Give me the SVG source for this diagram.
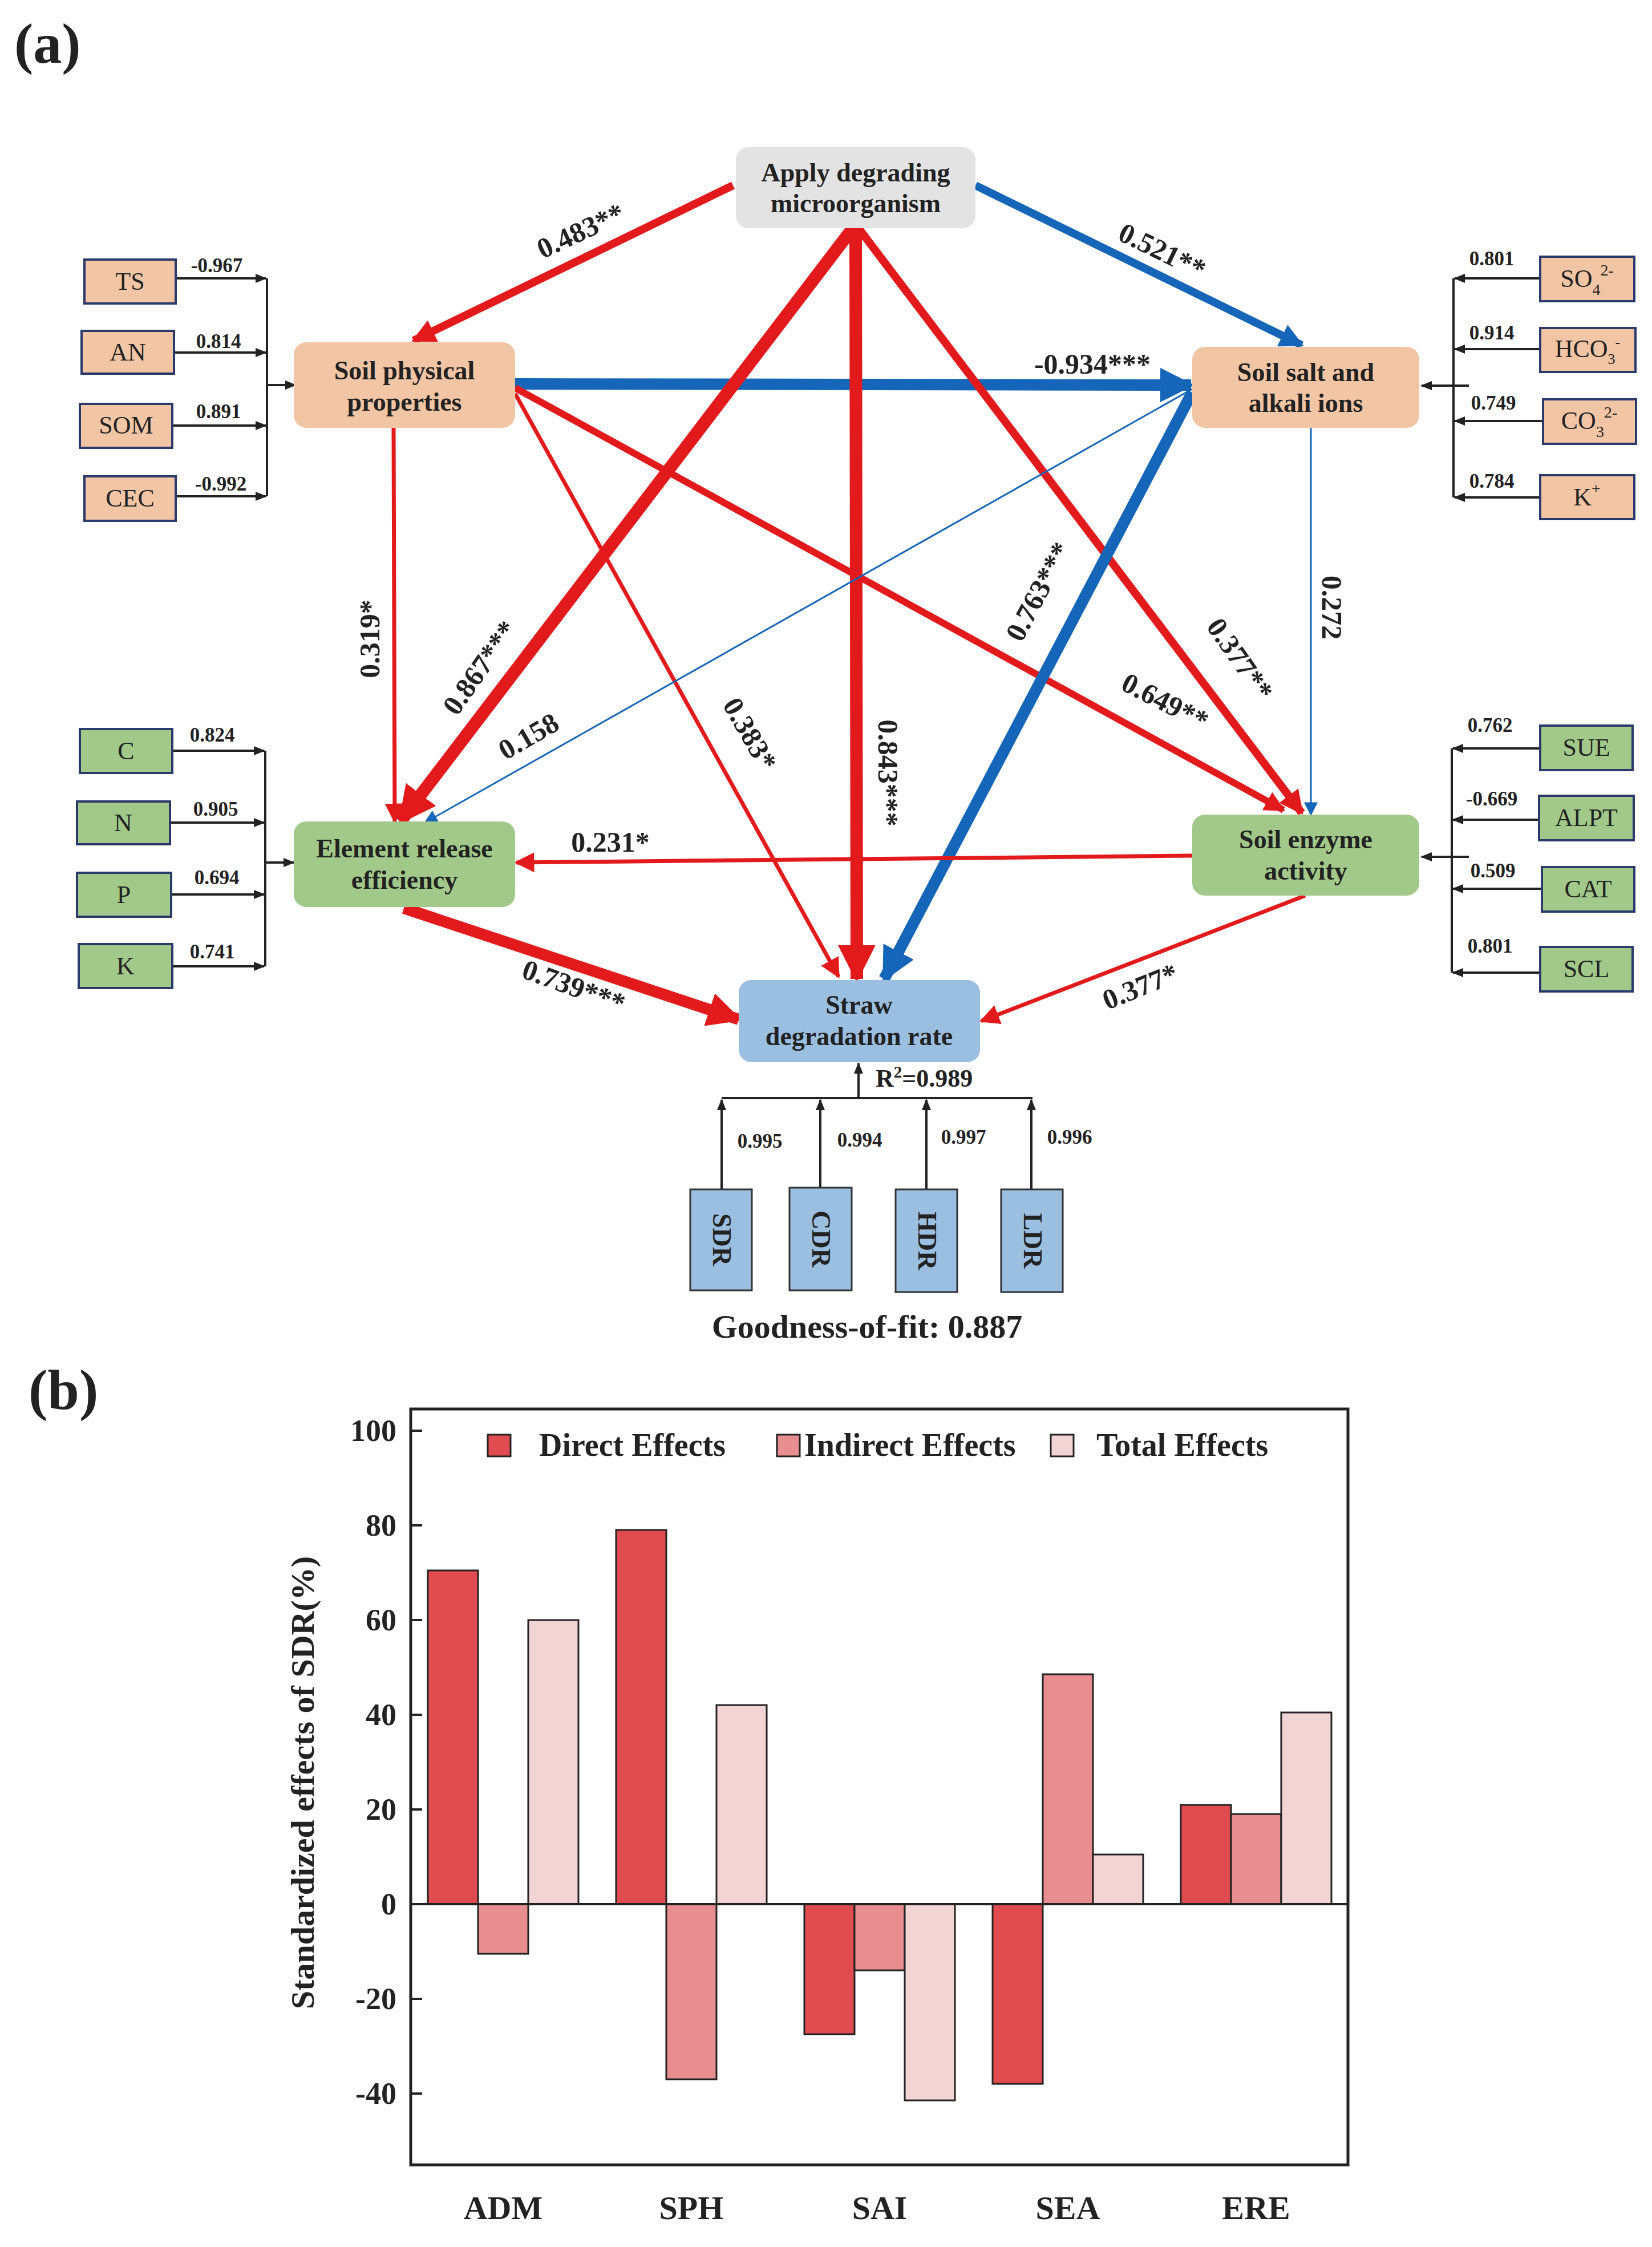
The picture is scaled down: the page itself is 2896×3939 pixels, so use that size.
<svg xmlns="http://www.w3.org/2000/svg" width="2896" height="3939" viewBox="0 0 2896 3939" font-family="'Liberation Serif','DejaVu Serif',serif">
<style>
text{font-family:'Liberation Serif','DejaVu Serif',serif;fill:#222}
.nb{font-weight:bold;font-size:46px;text-anchor:middle}
.lb{font-weight:bold;font-size:50px;text-anchor:middle}
.sm{font-weight:bold;font-size:35px;text-anchor:middle}
.bx{font-size:44px;text-anchor:middle}
.or{fill:#f2c5a5}.gr{fill:#a2c98a}.bl{fill:#9bbfe0}
.k{stroke:#222;stroke-width:4;fill:none}
.red{stroke:#e31a1c;fill:none}.blu{stroke:#1565b8;fill:none}
.bar{stroke:#222;stroke-width:3}
.d{fill:#e04b4f}.i{fill:#e88e90}.t{fill:#f3d4d4}
.ax{font-weight:bold;font-size:54px;text-anchor:end}
</style>
<defs>
<marker id="rA" viewBox="0 0 10 10" refX="9" refY="5" markerWidth="3" markerHeight="3" orient="auto"><path d="M0,0L10,5L0,10z" fill="#e31a1c"/></marker>
<marker id="bA" viewBox="0 0 10 10" refX="9" refY="5" markerWidth="3" markerHeight="3" orient="auto"><path d="M0,0L10,5L0,10z" fill="#1565b8"/></marker>
<marker id="rT" viewBox="0 0 10 10" refX="9" refY="5" markerWidth="5" markerHeight="5" orient="auto"><path d="M0,0L10,5L0,10z" fill="#e31a1c"/></marker>
<marker id="bT" viewBox="0 0 10 10" refX="9" refY="5" markerWidth="8" markerHeight="8" orient="auto"><path d="M0,0L10,5L0,10z" fill="#1565b8"/></marker>
<marker id="kA" viewBox="0 0 10 10" refX="9" refY="5" markerWidth="5" markerHeight="5" orient="auto"><path d="M0,1L10,5L0,9z" fill="#222"/></marker>
</defs>
<rect width="2896" height="3939" fill="#fff"/>
<text x="25" y="110" font-size="100" font-weight="bold">(a)</text>

<g id="connectors">
<line class="red" x1="1285" y1="325" x2="725" y2="597" stroke-width="14" marker-end="url(#rA)"/>
<line class="blu" x1="1710" y1="325" x2="2282" y2="605" stroke-width="14" marker-end="url(#bA)"/>
<line class="blu" x1="903" y1="673" x2="2088" y2="675" stroke-width="20" marker-end="url(#bA)"/>
<line class="red" x1="1495" y1="400" x2="702" y2="1440" stroke-width="22" marker-end="url(#rA)"/>
<line class="red" x1="1500" y1="400" x2="1502" y2="1716" stroke-width="22" marker-end="url(#rA)"/>
<line class="red" x1="1505" y1="400" x2="2282" y2="1425" stroke-width="14" marker-end="url(#rA)"/>
<line class="red" x1="690" y1="750" x2="692" y2="1440" stroke-width="7" marker-end="url(#rT)"/>
<line class="red" x1="903" y1="690" x2="1470" y2="1712" stroke-width="7" marker-end="url(#rT)"/>
<line class="red" x1="903" y1="680" x2="2250" y2="1420" stroke-width="12" marker-end="url(#rA)"/>
<line class="blu" x1="2090" y1="682" x2="745" y2="1442" stroke-width="3" marker-end="url(#bT)"/>
<line class="blu" x1="2090" y1="688" x2="1550" y2="1716" stroke-width="20" marker-end="url(#bA)"/>
<line class="blu" x1="2298" y1="750" x2="2298" y2="1428" stroke-width="3" marker-end="url(#bT)"/>
<line class="red" x1="2090" y1="1500" x2="905" y2="1512" stroke-width="7" marker-end="url(#rT)"/>
<line class="red" x1="708" y1="1592" x2="1295" y2="1787" stroke-width="20" marker-end="url(#rA)"/>
<line class="red" x1="2288" y1="1570" x2="1720" y2="1790" stroke-width="7" marker-end="url(#rT)"/>

<g class="lb">
<text transform="translate(1025,420) rotate(-25)">0.483**</text>
<text transform="translate(2030,455) rotate(26)">0.521**</text>
<text x="1915" y="655">-0.934***</text>
<text transform="translate(855,1180) rotate(-55)">0.867***</text>
<text transform="translate(1540,1355) rotate(90)">0.843***</text>
<text transform="translate(2160,1165) rotate(55)">0.377**</text>
<text transform="translate(665,1120) rotate(-90)">0.319*</text>
<text transform="translate(1300,1295) rotate(60)">0.383*</text>
<text transform="translate(2035,1245) rotate(27)">0.649**</text>
<text transform="translate(935,1305) rotate(-30)">0.158</text>
<text transform="translate(1835,1045) rotate(-62)">0.763***</text>
<text transform="translate(2318,1065) rotate(90)">0.272</text>
<text x="1070" y="1493">0.231*</text>
<text transform="translate(1000,1745) rotate(20)">0.739***</text>
<text transform="translate(2005,1745) rotate(-22)">0.377*</text>
</g>

<g>
<polyline class="k" points="468,488 468,870"/>
<line class="k" x1="308" y1="488" x2="466" y2="488" marker-end="url(#kA)"/>
<line class="k" x1="305" y1="618" x2="466" y2="618" marker-end="url(#kA)"/>
<line class="k" x1="302" y1="746" x2="466" y2="746" marker-end="url(#kA)"/>
<line class="k" x1="308" y1="870" x2="466" y2="870" marker-end="url(#kA)"/>
<line class="k" x1="468" y1="675" x2="518" y2="675" marker-end="url(#kA)"/>
<polyline class="k" points="465,1316 465,1694"/>
<line class="k" x1="302" y1="1316" x2="463" y2="1316" marker-end="url(#kA)"/>
<line class="k" x1="298" y1="1442" x2="463" y2="1442" marker-end="url(#kA)"/>
<line class="k" x1="300" y1="1568" x2="463" y2="1568" marker-end="url(#kA)"/>
<line class="k" x1="302" y1="1694" x2="463" y2="1694" marker-end="url(#kA)"/>
<line class="k" x1="465" y1="1512" x2="515" y2="1512" marker-end="url(#kA)"/>
<polyline class="k" points="2548,488 2548,872"/>
<line class="k" x1="2700" y1="488" x2="2550" y2="488" marker-end="url(#kA)"/>
<line class="k" x1="2700" y1="612" x2="2550" y2="612" marker-end="url(#kA)"/>
<line class="k" x1="2703" y1="738" x2="2550" y2="738" marker-end="url(#kA)"/>
<line class="k" x1="2700" y1="872" x2="2550" y2="872" marker-end="url(#kA)"/>
<line class="k" x1="2575" y1="676" x2="2492" y2="676" marker-end="url(#kA)"/>
<polyline class="k" points="2545,1312 2545,1705"/>
<line class="k" x1="2700" y1="1312" x2="2547" y2="1312" marker-end="url(#kA)"/>
<line class="k" x1="2700" y1="1437" x2="2547" y2="1437" marker-end="url(#kA)"/>
<line class="k" x1="2703" y1="1558" x2="2547" y2="1558" marker-end="url(#kA)"/>
<line class="k" x1="2700" y1="1705" x2="2547" y2="1705" marker-end="url(#kA)"/>
<line class="k" x1="2575" y1="1502" x2="2492" y2="1502" marker-end="url(#kA)"/>
<line class="k" x1="1265" y1="1925" x2="1810" y2="1925"/>
<line class="k" x1="1505" y1="1925" x2="1505" y2="1864" marker-end="url(#kA)"/>
<line class="k" x1="1265" y1="2085" x2="1265" y2="1928" marker-end="url(#kA)"/>
<line class="k" x1="1438" y1="2082" x2="1438" y2="1928" marker-end="url(#kA)"/>
<line class="k" x1="1624" y1="2085" x2="1624" y2="1928" marker-end="url(#kA)"/>
<line class="k" x1="1808" y1="2085" x2="1808" y2="1928" marker-end="url(#kA)"/>
</g>
<g class="sm">
<text x="380" y="477">-0.967</text><text x="383" y="610">0.814</text><text x="383" y="733">0.891</text><text x="387" y="860">-0.992</text>
<text x="372" y="1300">0.824</text><text x="378" y="1430">0.905</text><text x="380" y="1550">0.694</text><text x="372" y="1680">0.741</text>
<text x="2615" y="465">0.801</text><text x="2615" y="595">0.914</text><text x="2618" y="718">0.749</text><text x="2615" y="855">0.784</text>
<text x="2612" y="1283">0.762</text><text x="2615" y="1412">-0.669</text><text x="2617" y="1538">0.509</text><text x="2612" y="1670">0.801</text>
<text x="1332" y="2012">0.995</text><text x="1507" y="2010">0.994</text><text x="1689" y="2005">0.997</text><text x="1875" y="2005">0.996</text>
</g>
<text x="1535" y="1905" font-size="44" font-weight="bold">R<tspan dy="-16" font-size="29">2</tspan><tspan dy="16">=0.989</tspan></text>
</g>

<g id="n_apply"><rect x="1290" y="258" width="420" height="142" rx="22" fill="#e3e3e3"/><text class="nb" x="1500" y="318">Apply degrading</text><text class="nb" x="1500" y="372">microorganism</text></g>
<g id="n_phys"><rect x="515" y="600" width="388" height="150" rx="22" class="or"/><text class="nb" x="709" y="665">Soil physical</text><text class="nb" x="709" y="720">properties</text></g>
<g id="n_salt"><rect x="2090" y="608" width="398" height="142" rx="22" class="or"/><text class="nb" x="2289" y="668">Soil salt and</text><text class="nb" x="2289" y="722">alkali ions</text></g>
<g id="n_elem"><rect x="515" y="1440" width="388" height="150" rx="22" class="gr"/><text class="nb" x="709" y="1503">Element release</text><text class="nb" x="709" y="1558">efficiency</text></g>
<g id="n_enz"><rect x="2090" y="1428" width="398" height="142" rx="22" class="gr"/><text class="nb" x="2289" y="1487">Soil enzyme</text><text class="nb" x="2289" y="1542">activity</text></g>
<g id="n_straw"><rect x="1295" y="1718" width="423" height="144" rx="22" class="bl"/><text class="nb" x="1506" y="1777">Straw</text><text class="nb" x="1506" y="1832">degradation rate</text></g>

<g id="n_TS"><rect x="148" y="455" width="160" height="77" class="or" stroke="#2a3a6a" stroke-width="4"/><text class="bx" x="228" y="508">TS</text></g>
<g id="n_AN"><rect x="143" y="580" width="162" height="75" class="or" stroke="#2a3a6a" stroke-width="4"/><text class="bx" x="224" y="632">AN</text></g>
<g id="n_SOM"><rect x="140" y="708" width="162" height="77" class="or" stroke="#2a3a6a" stroke-width="4"/><text class="bx" x="221" y="760">SOM</text></g>
<g id="n_CEC"><rect x="148" y="835" width="160" height="78" class="or" stroke="#2a3a6a" stroke-width="4"/><text class="bx" x="228" y="888">CEC</text></g>
<g id="n_C"><rect x="140" y="1278" width="162" height="77" class="gr" stroke="#2a3a6a" stroke-width="4"/><text class="bx" x="221" y="1331">C</text></g>
<g id="n_N"><rect x="135" y="1405" width="163" height="75" class="gr" stroke="#2a3a6a" stroke-width="4"/><text class="bx" x="216" y="1457">N</text></g>
<g id="n_P"><rect x="135" y="1530" width="165" height="77" class="gr" stroke="#2a3a6a" stroke-width="4"/><text class="bx" x="217" y="1583">P</text></g>
<g id="n_K"><rect x="138" y="1655" width="164" height="77" class="gr" stroke="#2a3a6a" stroke-width="4"/><text class="bx" x="220" y="1708">K</text></g>
<g id="n_SO4"><rect x="2700" y="450" width="165" height="78" class="or" stroke="#2a3a6a" stroke-width="4"/><text class="bx" x="2782" y="503">SO<tspan font-size="28" dy="14">4</tspan><tspan font-size="28" dy="-34">2-</tspan></text></g>
<g id="n_HCO3"><rect x="2700" y="575" width="167" height="77" class="or" stroke="#2a3a6a" stroke-width="4"/><text class="bx" x="2783" y="626" font-size="38">HCO<tspan font-size="26" dy="12">3</tspan><tspan font-size="26" dy="-30">-</tspan></text></g>
<g id="n_CO3"><rect x="2705" y="700" width="163" height="78" class="or" stroke="#2a3a6a" stroke-width="4"/><text class="bx" x="2786" y="752">CO<tspan font-size="28" dy="14">3</tspan><tspan font-size="28" dy="-34">2-</tspan></text></g>
<g id="n_Kp"><rect x="2700" y="833" width="165" height="77" class="or" stroke="#2a3a6a" stroke-width="4"/><text class="bx" x="2782" y="886">K<tspan font-size="28" dy="-20">+</tspan></text></g>
<g id="n_SUE"><rect x="2700" y="1272" width="162" height="78" class="gr" stroke="#2a3a6a" stroke-width="4"/><text class="bx" x="2781" y="1325">SUE</text></g>
<g id="n_ALPT"><rect x="2698" y="1395" width="166" height="78" class="gr" stroke="#2a3a6a" stroke-width="4"/><text class="bx" x="2781" y="1448">ALPT</text></g>
<g id="n_CAT"><rect x="2703" y="1520" width="162" height="78" class="gr" stroke="#2a3a6a" stroke-width="4"/><text class="bx" x="2784" y="1573">CAT</text></g>
<g id="n_SCL"><rect x="2700" y="1660" width="162" height="78" class="gr" stroke="#2a3a6a" stroke-width="4"/><text class="bx" x="2781" y="1713">SCL</text></g>
<g id="n_SDR"><rect x="1210" y="2085" width="108" height="177" class="bl" stroke="#333" stroke-width="3"/><text class="nb" transform="translate(1250,2173) rotate(90)">SDR</text></g>
<g id="n_CDR"><rect x="1384" y="2082" width="109" height="180" class="bl" stroke="#333" stroke-width="3"/><text class="nb" transform="translate(1424,2172) rotate(90)">CDR</text></g>
<g id="n_HDR"><rect x="1570" y="2085" width="108" height="180" class="bl" stroke="#333" stroke-width="3"/><text class="nb" transform="translate(1610,2175) rotate(90)">HDR</text></g>
<g id="n_LDR"><rect x="1755" y="2085" width="108" height="180" class="bl" stroke="#333" stroke-width="3"/><text class="nb" transform="translate(1795,2175) rotate(90)">LDR</text></g>
<text x="1520" y="2345" font-size="58" font-weight="bold" text-anchor="middle">Goodness-of-fit: 0.887</text>

<g id="chart">
<text x="50" y="2470" font-size="100" font-weight="bold">(b)</text>
<g class="bar">
<rect class="d" x="750" y="2753" width="88" height="585"/>
<rect class="i" x="838" y="3338" width="88" height="87"/>
<rect class="t" x="926" y="2840" width="88" height="498"/>
<rect class="d" x="1080" y="2682" width="88" height="656"/>
<rect class="i" x="1168" y="3338" width="88" height="307"/>
<rect class="t" x="1256" y="2989" width="88" height="349"/>
<rect class="d" x="1410" y="3338" width="88" height="228"/>
<rect class="i" x="1498" y="3338" width="88" height="116"/>
<rect class="t" x="1586" y="3338" width="88" height="344"/>
<rect class="d" x="1740" y="3338" width="88" height="315"/>
<rect class="i" x="1828" y="2935" width="88" height="403"/>
<rect class="t" x="1916" y="3251" width="88" height="87"/>
<rect class="d" x="2070" y="3164" width="88" height="174"/>
<rect class="i" x="2158" y="3180" width="88" height="158"/>
<rect class="t" x="2246" y="3002" width="88" height="336"/>
</g>
<rect x="720" y="2470" width="1643" height="1325" fill="none" stroke="#222" stroke-width="5"/>
<line x1="720" y1="3338" x2="2363" y2="3338" stroke="#222" stroke-width="4"/>
<g stroke="#222" stroke-width="4">
<line x1="720" y1="2508" x2="740" y2="2508"/><line x1="720" y1="2674" x2="740" y2="2674"/><line x1="720" y1="2840" x2="740" y2="2840"/><line x1="720" y1="3006" x2="740" y2="3006"/><line x1="720" y1="3172" x2="740" y2="3172"/><line x1="720" y1="3338" x2="740" y2="3338"/><line x1="720" y1="3504" x2="740" y2="3504"/><line x1="720" y1="3670" x2="740" y2="3670"/>
</g>
<g class="ax">
<text x="695" y="2526">100</text><text x="695" y="2692">80</text><text x="695" y="2858">60</text><text x="695" y="3024">40</text><text x="695" y="3190">20</text><text x="695" y="3356">0</text><text x="695" y="3522">-20</text><text x="695" y="3688">-40</text>
</g>
<text transform="translate(550,3125) rotate(-90)" font-size="58" font-weight="bold" text-anchor="middle">Standardized effects of SDR(%)</text>
<g font-size="58" font-weight="bold" text-anchor="middle">
<text x="882" y="3890">ADM</text><text x="1212" y="3890">SPH</text><text x="1542" y="3890">SAI</text><text x="1872" y="3890">SEA</text><text x="2202" y="3890">ERE</text>
</g>
<g class="bar"><rect class="d" x="855" y="2515" width="40" height="38"/><rect class="i" x="1362" y="2515" width="40" height="38"/><rect class="t" x="1842" y="2515" width="40" height="38"/></g>
<g font-size="56" font-weight="bold"><text x="945" y="2552">Direct Effects</text><text x="1410" y="2552">Indirect Effects</text><text x="1922" y="2552">Total Effects</text></g>
</g>
</svg>
